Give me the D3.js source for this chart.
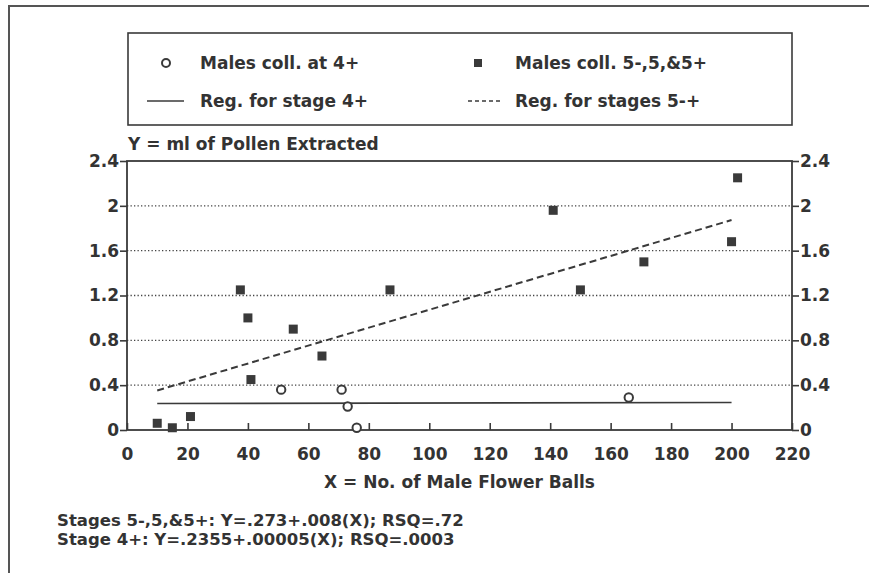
<!DOCTYPE html>
<html>
<head>
<meta charset="utf-8">
<script src="https://cdn.jsdelivr.net/npm/d3@7"></script>
<style>
body{margin:0;background:#fff;}
text{font-family:"DejaVu Sans",sans-serif;font-weight:bold;font-size:17px;fill:#333;}
</style>
</head>
<body>
<svg id="chart" width="869" height="573"></svg>
<script>
// Males collected at stage 5-,5,&5+ (filled squares)
var fiveX=[10,15,21,37.5,40,41,55,64.5,87,141,150,171,200,202];
var fiveY=[0.06,0.02,0.12,1.25,1.0,0.45,0.9,0.66,1.25,1.96,1.25,1.5,1.68,2.25];
// Males collected at 4+ (open circles)
var fourX=[51,71,73,76,166];
var fourY=[0.36,0.36,0.21,0.02,0.29];
// regression line ends
var regFiveX=[10,200], regFiveY=[0.353,1.873];
var regFourX=[10,200], regFourY=[0.236,0.246];

var xTicks=[0,20,40,60,80,100,120,140,160,180,200,220];
var yTicks=[0,0.4,0.8,1.2,1.6,2,2.4];
var yTickLabels=["0","0.4","0.8","1.2","1.6","2","2.4"];
var gridVals=[0.4,0.8,1.2,1.6,2];

var legendNames=["Males coll. at 4+","Males coll. 5-,5,&5+","Reg. for stage 4+","Reg. for stages 5-+"];
var yTitle="Y = ml of Pollen Extracted";
var xTitle="X = No. of Male Flower Balls";
var notes=["Stages 5-,5,&5+: Y=.273+.008(X); RSQ=.72","Stage 4+: Y=.2355+.00005(X); RSQ=.0003"];

var svg=d3.select("#chart");
var ink="#3a3a3a";

var L=127,R=792,T=161,B=430;
var x=d3.scaleLinear().domain([0,220]).range([L,R]);
var y=d3.scaleLinear().domain([0,2.4]).range([B,T]);

//outer frame (top and left edges only show)
svg.append("path").attr("d","M9,573V6H869").attr("fill","none").attr("stroke","#555").attr("stroke-width",2);

//legend box
svg.append("rect").attr("x",128).attr("y",33).attr("width",664).attr("height",92)
  .attr("fill","none").attr("stroke",ink).attr("stroke-width",1.6);
var lg=svg.append("g");
lg.append("circle").attr("cx",166).attr("cy",63).attr("r",4).attr("fill","#fff").attr("stroke",ink).attr("stroke-width",2);
lg.append("rect").attr("x",474).attr("y",59).attr("width",8).attr("height",8).attr("fill",ink);
lg.append("line").attr("x1",147).attr("x2",184).attr("y1",101).attr("y2",101).attr("stroke",ink).attr("stroke-width",1.6);
lg.append("line").attr("x1",468).attr("x2",502).attr("y1",101).attr("y2",101).attr("stroke",ink).attr("stroke-width",1.6).attr("stroke-dasharray","4,3");
var lgPos=[[200,63],[515,63],[200,101],[515,101]];
lg.selectAll("text").data(legendNames).enter().append("text")
  .attr("x",function(d,i){return lgPos[i][0];})
  .attr("y",function(d,i){return lgPos[i][1];})
  .attr("dy","0.36em").text(function(d){return d;});

//y title
svg.append("text").attr("x",128).attr("y",150).text(yTitle);

//dotted grid
svg.append("g").selectAll("line").data(gridVals).enter().append("line")
  .attr("x1",L).attr("x2",R).attr("y1",function(d){return y(d);}).attr("y2",function(d){return y(d);})
  .attr("stroke","#444").attr("stroke-width",1.3).attr("stroke-dasharray","1.3,2.2");

//axes
var fmt=function(d){return yTickLabels[yTicks.indexOf(d)];};
var gl=svg.append("g").attr("transform","translate("+L+",0)")
  .call(d3.axisLeft(y).tickValues(yTicks).tickSize(7).tickPadding(1).tickFormat(fmt));
var gr=svg.append("g").attr("transform","translate("+R+",0)")
  .call(d3.axisRight(y).tickValues(yTicks).tickSize(7).tickPadding(1).tickFormat(fmt));
var gb=svg.append("g").attr("transform","translate(0,"+B+")")
  .call(d3.axisBottom(x).tickValues(xTicks).tickSize(-7).tickPadding(18).tickFormat(d3.format("d")));
[gl,gr,gb].forEach(function(g){
  g.select(".domain").remove();
  g.selectAll(".tick line").attr("stroke",ink).attr("stroke-width",1.6);
  g.selectAll(".tick text").attr("fill","#333").style("font-size","17px").style("font-family","DejaVu Sans").style("font-weight","bold");
});

//plot box
svg.append("rect").attr("x",L).attr("y",T).attr("width",R-L).attr("height",B-T)
  .attr("fill","none").attr("stroke",ink).attr("stroke-width",1.8);

//regression lines
var line=d3.line().x(function(d){return x(d[0]);}).y(function(d){return y(d[1]);});
svg.append("path").datum(d3.zip(regFourX,regFourY)).attr("d",line)
  .attr("fill","none").attr("stroke",ink).attr("stroke-width",1.6);
svg.append("path").datum(d3.zip(regFiveX,regFiveY)).attr("d",line)
  .attr("fill","none").attr("stroke",ink).attr("stroke-width",2).attr("stroke-dasharray","7,4");

//points
svg.append("g").selectAll("rect").data(d3.zip(fiveX,fiveY)).enter().append("rect")
  .attr("x",function(d){return x(d[0])-4.5;}).attr("y",function(d){return y(d[1])-4.5;})
  .attr("width",9).attr("height",9).attr("fill",ink);
svg.append("g").selectAll("circle").data(d3.zip(fourX,fourY)).enter().append("circle")
  .attr("cx",function(d){return x(d[0]);}).attr("cy",function(d){return y(d[1]);})
  .attr("r",4.2).attr("fill","#fff").attr("stroke",ink).attr("stroke-width",2);

//x title and notes
svg.append("text").attr("x",(L+R)/2).attr("y",488).attr("text-anchor","middle").text(xTitle);
svg.selectAll(".note").data(notes).enter().append("text").attr("class","note")
  .attr("x",57).attr("y",function(d,i){return 526+i*19;}).style("font-size","16.5px").text(function(d){return d;});
</script>
</body>
</html>
